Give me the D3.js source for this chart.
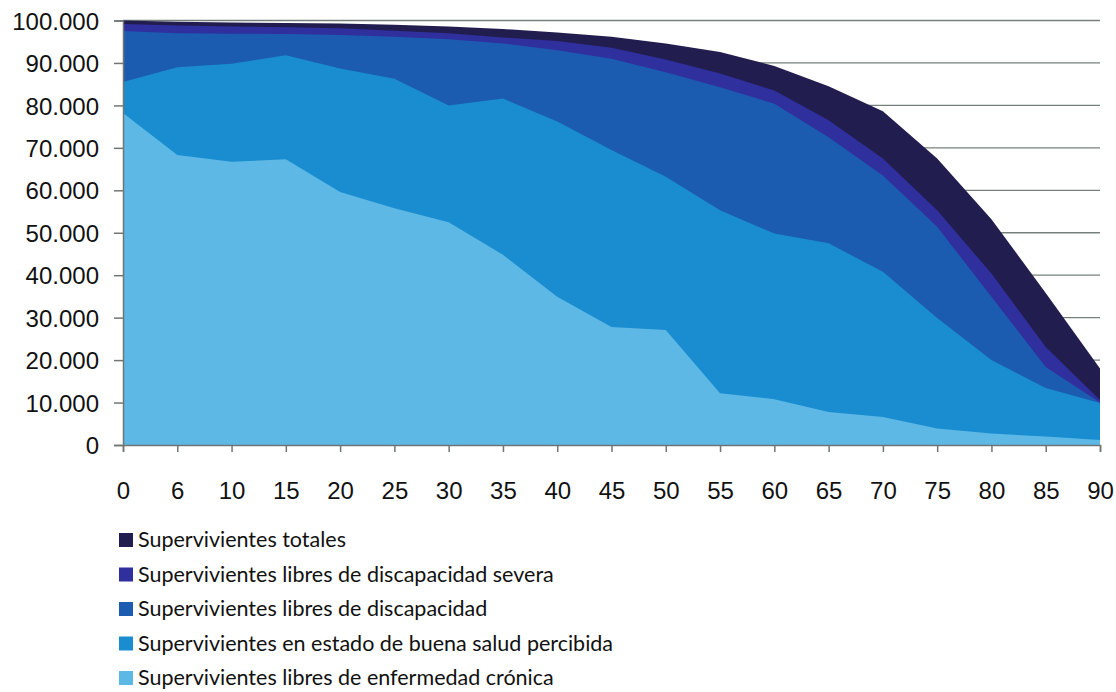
<!DOCTYPE html>
<html lang="es">
<head>
<meta charset="UTF-8">
<title>Supervivientes</title>
<script src="https://d3js.org/d3.v7.min.js"></script>
<style>
    body { margin: 0; background: #fff; }
    svg { display: block; font-family: "Open Sans", Arial, sans-serif; }
    .tick text { fill: #111; }
    .legend text { font-family: Lato, "Open Sans", sans-serif; font-size: 21.5px; fill: #111; }
</style>
</head>
<body>
<div id="chart"></div>
<script>
// edades (eje x)
var ages = ["0", "6", "10", "15", "20", "25", "30", "35", "40", "45", "50", "55", "60", "65", "70", "75", "80", "85", "90"];

// supervivientes por edad
var totales       = [100000, 99700, 99500, 99400, 99300, 99000, 98600, 98000, 97200, 96200, 94600, 92600, 89300, 84500, 78600, 67500, 53200, 35800, 18000];
var libresSevera  = [99200, 98800, 98600, 98400, 98200, 97600, 97000, 96000, 95200, 93600, 90800, 87500, 83500, 76500, 67500, 55300, 40400, 23100, 10600];
var libresDiscap  = [97500, 97000, 96900, 96800, 96600, 96200, 95600, 94600, 93000, 91000, 87800, 84300, 80400, 72500, 63500, 51400, 34900, 18400, 10000];
var buenaSalud    = [85500, 89000, 89800, 91800, 88700, 86300, 80000, 81600, 76200, 69500, 63200, 55300, 49800, 47500, 40800, 29900, 20000, 13400, 9900];
var libresCronica = [78200, 68300, 66700, 67300, 59600, 55800, 52500, 44800, 34900, 27800, 27100, 12200, 10800, 7800, 6600, 3900, 2700, 2000, 1200];

var seriesNames = [
    "Supervivientes totales",
    "Supervivientes libres de discapacidad severa",
    "Supervivientes libres de discapacidad",
    "Supervivientes en estado de buena salud percibida",
    "Supervivientes libres de enfermedad crónica"
];
var seriesValues = [totales, libresSevera, libresDiscap, buenaSalud, libresCronica];
var colors = ["#221d4f", "#2f2f9e", "#1b5cb1", "#198dcf", "#5db8e6"];

var yTicks = [0, 10000, 20000, 30000, 40000, 50000, 60000, 70000, 80000, 90000, 100000];

var width = 1116, height = 692;
var svg = d3.select("#chart").append("svg")
    .attr("width", width)
    .attr("height", height);

var x = d3.scalePoint().domain(ages).range([123, 1100]);
var y = d3.scaleLinear().domain([0, 100000]).range([445, 20.5]);

var es = d3.formatLocale({decimal: ",", thousands: ".", grouping: [3], currency: ["", ""]});
var fmt = es.format(",");

// gridlines
svg.append("g")
    .selectAll("line")
    .data(yTicks.slice(1))
    .enter().append("line")
    .attr("x1", 123).attr("x2", 1100)
    .attr("y1", d => y(d)).attr("y2", d => y(d))
    .attr("stroke", "#75807a")
    .attr("stroke-width", 1.3);

// areas (superpuestas, no apiladas)
var area = d3.area()
    .x((d, i) => x(ages[i]))
    .y0(y(0))
    .y1(d => y(d));

svg.append("g")
    .selectAll("path")
    .data(seriesValues)
    .enter().append("path")
    .attr("d", area)
    .attr("fill", (d, i) => colors[i]);

// ejes
var yAxis = svg.append("g")
    .attr("transform", "translate(123,0)")
    .call(d3.axisLeft(y).tickValues(yTicks).tickFormat(fmt).tickSize(9).tickPadding(15));
yAxis.selectAll("text").style("font-size", "24px").attr("dy", "0.36em");

var xAxis = svg.append("g")
    .attr("transform", "translate(0,445)")
    .call(d3.axisBottom(x).tickSize(7).tickPadding(30));
xAxis.selectAll("text").style("font-size", "24px");

svg.selectAll(".domain").attr("stroke", "#6f7672").attr("stroke-width", 1.5);
svg.selectAll(".tick line").attr("stroke", "#6f7672").attr("stroke-width", 1.5);

// leyenda
var legend = svg.append("g").attr("class", "legend");
var rows = legend.selectAll("g")
    .data(seriesNames)
    .enter().append("g")
    .attr("transform", (d, i) => `translate(119, ${547 + i * 34.5})`);

rows.append("rect")
    .attr("x", 0).attr("y", -14)
    .attr("width", 14).attr("height", 14)
    .attr("fill", (d, i) => colors[i]);

rows.append("text")
    .attr("x", 19).attr("y", 0)
    .text(d => d);
</script>
</body>
</html>
